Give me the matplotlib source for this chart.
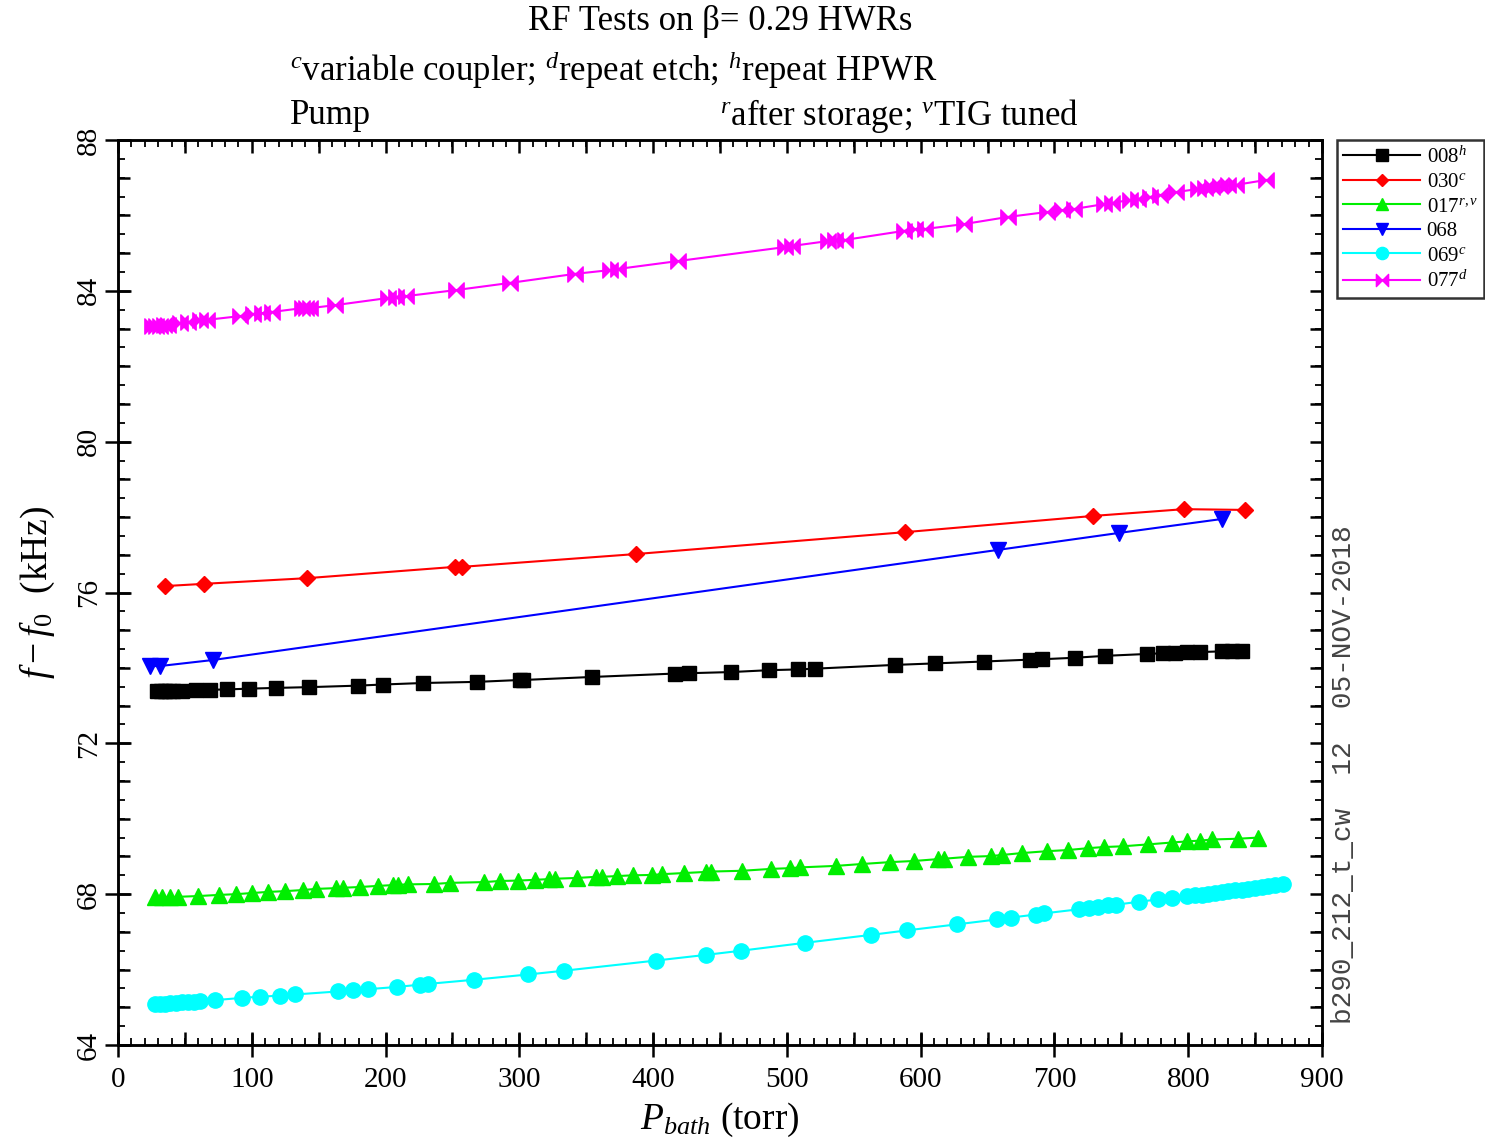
import numpy as np
import matplotlib
matplotlib.use("Agg")
import matplotlib.pyplot as plt
from matplotlib.ticker import MultipleLocator, NullFormatter
from matplotlib.path import Path

plt.rcParams['font.family'] = ['Liberation Serif', 'DejaVu Serif']
plt.rcParams['mathtext.fontset'] = 'custom'
plt.rcParams['mathtext.rm'] = 'Liberation Serif'
plt.rcParams['mathtext.it'] = 'Liberation Serif:italic'
plt.rcParams['mathtext.bf'] = 'Liberation Serif:bold'

# ---- data (P_bath in torr, f - f0 in kHz) ----
p_008 = [29.2, 32.1, 35.1, 38.1, 41.1, 47.8, 58.3, 68.8, 81.5, 97.9, 118.1, 142.8,
         179.4, 198.1, 228.0, 268.4, 300.5, 303.0, 354.3, 416.0, 427.0, 458.2, 486.6,
         508.3, 521.0, 580.8, 610.7, 647.3, 681.7, 690.7, 715.4, 737.8, 769.2, 781.1,
         790.1, 799.1, 808.8, 825.3, 832.7, 840.2]
f_008 = [73.39, 73.39, 73.39, 73.39, 73.39, 73.40, 73.41, 73.42, 73.43, 73.45, 73.47, 73.49,
         73.53, 73.56, 73.60, 73.63, 73.68, 73.68, 73.76, 73.85, 73.86, 73.89, 73.94,
         73.96, 73.98, 74.08, 74.12, 74.17, 74.22, 74.23, 74.27, 74.32, 74.37, 74.39,
         74.40, 74.41, 74.42, 74.44, 74.44, 74.45]

p_030 = [35.1, 64.3, 141.3, 251.9, 257.1, 387.2, 588.3, 728.8, 796.8, 842.4]
f_030 = [76.17, 76.23, 76.38, 76.68, 76.68, 77.02, 77.60, 78.03, 78.21, 78.19]

p_017 = [27.7, 32.9, 38.9, 44.9, 59.8, 75.5, 88.2, 100.2, 112.1, 124.8, 138.3, 148.0,
         163.0, 168.2, 180.9, 194.4, 205.6, 209.3, 216.8, 236.2, 248.2, 273.6, 285.5,
         299.0, 311.7, 322.2, 326.7, 343.1, 357.3, 361.8, 373.0, 385.0, 399.2, 406.6,
         423.1, 439.5, 443.3, 466.4, 488.1, 502.3, 509.8, 536.7, 556.1, 577.1, 595.0,
         613.0, 617.4, 635.4, 652.6, 660.8, 675.7, 694.4, 710.1, 725.1, 737.0, 751.3,
         769.9, 787.9, 799.1, 808.8, 817.8, 837.2, 852.2]
f_017 = [67.92, 67.92, 67.92, 67.93, 67.95, 67.98, 68.00, 68.03, 68.06, 68.08, 68.11, 68.14,
         68.16, 68.17, 68.19, 68.22, 68.24, 68.25, 68.26, 68.27, 68.30, 68.32, 68.35,
         68.36, 68.38, 68.40, 68.41, 68.43, 68.46, 68.46, 68.48, 68.50, 68.51, 68.53,
         68.56, 68.59, 68.60, 68.62, 68.67, 68.69, 68.71, 68.75, 68.80, 68.85, 68.88,
         68.93, 68.94, 68.99, 69.01, 69.04, 69.09, 69.14, 69.17, 69.22, 69.25, 69.27,
         69.32, 69.37, 69.40, 69.42, 69.45, 69.47, 69.50]

p_068 = [23.9, 31.4, 71.0, 657.8, 748.3, 825.3]
f_068 = [74.05, 74.05, 74.21, 77.13, 77.58, 77.95]

p_069 = [27.7, 31.4, 35.1, 38.9, 43.4, 47.8, 52.3, 56.8, 61.3, 72.5, 92.7, 106.1, 121.1,
         132.3, 164.5, 175.7, 186.9, 208.6, 225.7, 231.7, 266.1, 306.5, 333.4, 402.2,
         439.5, 465.7, 513.5, 562.9, 589.8, 627.2, 657.1, 667.5, 686.2, 692.2, 718.4,
         725.8, 732.6, 740.0, 746.0, 763.2, 777.4, 787.9, 799.1, 805.0, 810.0, 815.0,
         820.0, 825.0, 830.0, 835.0, 840.0, 845.0, 850.0, 855.0, 860.0, 865.0, 871.0]
f_069 = [65.09, 65.09, 65.10, 65.11, 65.12, 65.13, 65.14, 65.15, 65.16, 65.19, 65.25, 65.28, 65.31,
         65.34, 65.42, 65.45, 65.48, 65.54, 65.60, 65.62, 65.73, 65.87, 65.97, 66.24,
         66.39, 66.50, 66.71, 66.92, 67.04, 67.20, 67.33, 67.38, 67.46, 67.49, 67.60,
         67.63, 67.66, 67.70, 67.72, 67.80, 67.86, 67.90, 67.95, 67.97, 67.99, 68.01,
         68.03, 68.05, 68.08, 68.10, 68.12, 68.14, 68.17, 68.19, 68.22, 68.24, 68.27]

p_077 = [25.4, 28.4, 31.4, 34.4, 37.4, 46.3, 52.3, 61.3, 66.5, 91.2, 100.9, 107.6, 115.1,
         137.5, 140.5, 143.5, 162.2, 201.8, 207.8, 215.3, 252.7, 293.0, 341.6, 367.8,
         373.8, 418.6, 498.6, 503.8, 530.7, 536.0, 543.4, 587.5, 595.8, 603.2, 632.4,
         665.3, 694.4, 705.7, 714.6, 737.0, 743.0, 756.5, 762.5, 771.4, 778.9, 790.9,
         807.3, 812.6, 817.8, 823.8, 829.7, 835.7, 858.1]
f_077 = [83.07, 83.07, 83.07, 83.09, 83.09, 83.15, 83.17, 83.23, 83.23, 83.33, 83.39, 83.41, 83.44,
         83.54, 83.54, 83.54, 83.62, 83.81, 83.84, 83.86, 84.02, 84.21, 84.45, 84.55,
         84.58, 84.79, 85.16, 85.19, 85.32, 85.35, 85.35, 85.59, 85.64, 85.64, 85.77,
         85.96, 86.09, 86.14, 86.17, 86.30, 86.33, 86.41, 86.44, 86.49, 86.54, 86.62,
         86.70, 86.73, 86.75, 86.78, 86.81, 86.81, 86.94]

# bowtie marker (two triangles meeting at the tips)
bowtie = Path([(-1, -1), (-1, 1), (0, 0), (1, 1), (1, -1), (0, 0), (-1, -1)],
              [Path.MOVETO, Path.LINETO, Path.LINETO, Path.LINETO, Path.LINETO,
               Path.LINETO, Path.CLOSEPOLY])

fig = plt.figure(figsize=(14.85, 11.43), dpi=100)
ax = fig.add_axes([118 / 1485, 1 - 1045 / 1143, (1322 - 118) / 1485, (1045 - 140) / 1143])

lw = 1.5
ax.plot(p_008, f_008, '-', color='black', marker='s', ms=10.5, lw=lw, label=r'008$^{h}$')
ax.plot(p_030, f_030, '-', color='red', marker='D', ms=8, lw=lw, label=r'030$^{c}$')
ax.plot(p_017, f_017, '-', color='#00ee00', marker='^', ms=11, lw=lw, label=r'017$^{r,v}$')
ax.plot(p_068, f_068, '-', color='blue', marker='v', ms=11, lw=lw, label='068')
ax.plot(p_069, f_069, '-', color='cyan', marker='o', ms=11, lw=lw, label=r'069$^{c}$')
ax.plot(p_077, f_077, '-', color='magenta', marker=bowtie, ms=11, lw=lw, label=r'077$^{d}$')

ax.set_xlim(0, 900)
ax.set_ylim(64, 88)

for s in ax.spines.values():
    s.set_linewidth(1.8)

ax.xaxis.set_major_locator(MultipleLocator(100))
ax.xaxis.set_minor_locator(MultipleLocator(10))
ax.yaxis.set_major_locator(MultipleLocator(4))
ax.yaxis.set_minor_locator(MultipleLocator(0.5))

ax.tick_params(which='major', direction='inout', length=17, width=1.8,
               top=False, right=False, labelsize=21, pad=3)
ax.tick_params(which='minor', direction='in', length=5, width=1.3,
               top=True, right=True)
ax.tick_params(axis='x', which='major', pad=7)
ax.tick_params(axis='y', which='major', length=19, pad=2)
for lab in ax.get_yticklabels():
    lab.set_rotation(90)
    lab.set_va('center')

# medium ticks: every 50 torr and every 1 kHz, on all four sides
for side in ('bottom', 'top'):
    sec = ax.secondary_xaxis(side)
    sec.xaxis.set_major_locator(MultipleLocator(50))
    sec.xaxis.set_major_formatter(NullFormatter())
    sec.tick_params(direction='in', length=9.5, width=1.8)
    sec.spines[side].set_linewidth(1.8)
for side in ('left', 'right'):
    sec = ax.secondary_yaxis(side)
    sec.yaxis.set_major_locator(MultipleLocator(1))
    sec.yaxis.set_major_formatter(NullFormatter())
    sec.tick_params(direction='in', length=8.5, width=1.8)
    sec.spines[side].set_linewidth(1.8)

ax.set_xlabel(r'$P_{bath}$ (torr)', fontsize=27, labelpad=6)
ax.set_ylabel(r'$f-f_0$  (kHz)', fontsize=27, labelpad=14)

# header text
fig.text(720 / 1485, 1 - 22 / 1143, r'RF Tests on β= 0.29 HWRs', fontsize=25,
         ha='center', va='center')
fig.text(290 / 1485, 1 - 70 / 1143,
         r'$^{c}$variable coupler; $^{d}$repeat etch; $^{h}$repeat HPWR',
         fontsize=25, ha='left', va='center')
fig.text(290 / 1485, 1 - 116 / 1143, 'Pump', fontsize=25, ha='left', va='center')
fig.text(720 / 1485, 1 - 116 / 1143, r'$^{r}$after storage; $^{v}$TIG tuned',
         fontsize=25, ha='left', va='center')

# run stamp on the right
fig.text(1344 / 1485, 1 - 775 / 1143, 'b290_212_t_cw  12  05-NOV-2018',
         family='Liberation Mono', fontsize=20, rotation=90, color='#444444',
         ha='center', va='center')

leg = fig.legend(loc='upper left', bbox_to_anchor=(1337 / 1485, 1 - 140 / 1143),
                 fontsize=15, handlelength=3.7, handletextpad=0.3, labelspacing=0.24,
                 borderpad=0.3, borderaxespad=0, fancybox=False, frameon=True,
                 markerscale=0.8)
leg.get_frame().set_edgecolor('black')
leg.get_frame().set_linewidth(1.8)

fig.savefig('out.png', dpi=100)
